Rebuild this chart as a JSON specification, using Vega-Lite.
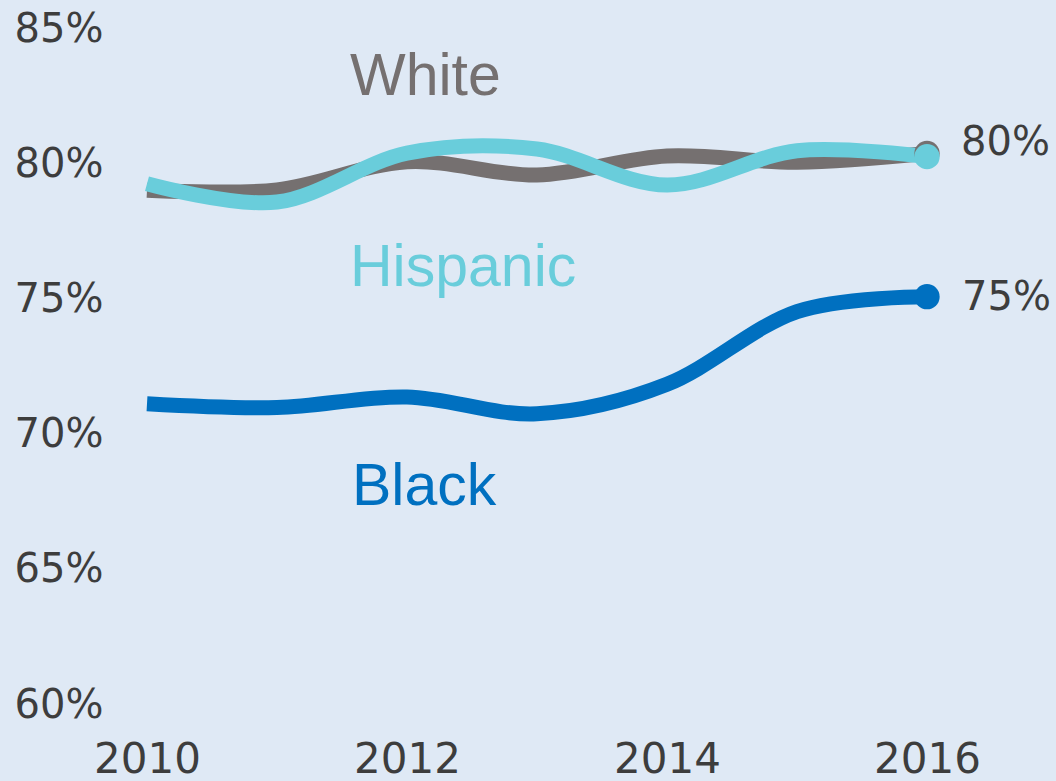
{
  "$schema": "https://vega.github.io/schema/vega-lite/v6.json",
  "autosize": "none",
  "width": 910,
  "height": 676,
  "padding": {"left": 147, "top": 29, "right": 0, "bottom": 76},
  "background": "#dfe9f5",
  "config": {"view": {"stroke": null}},
  "data": {
    "values": [
      {"series": "White", "year": 2010, "value": 0.7904},
      {"series": "White", "year": 2011, "value": 0.7905},
      {"series": "White", "year": 2012, "value": 0.8009},
      {"series": "White", "year": 2013, "value": 0.7960},
      {"series": "White", "year": 2014, "value": 0.8030},
      {"series": "White", "year": 2015, "value": 0.8007},
      {"series": "White", "year": 2016, "value": 0.8040},
      {"series": "Hispanic", "year": 2010, "value": 0.7928},
      {"series": "Hispanic", "year": 2011, "value": 0.7860},
      {"series": "Hispanic", "year": 2012, "value": 0.8041},
      {"series": "Hispanic", "year": 2013, "value": 0.8056},
      {"series": "Hispanic", "year": 2014, "value": 0.7923},
      {"series": "Hispanic", "year": 2015, "value": 0.8050},
      {"series": "Hispanic", "year": 2016, "value": 0.8028},
      {"series": "Black", "year": 2010, "value": 0.7114},
      {"series": "Black", "year": 2011, "value": 0.7100},
      {"series": "Black", "year": 2012, "value": 0.7139},
      {"series": "Black", "year": 2013, "value": 0.7077},
      {"series": "Black", "year": 2014, "value": 0.7186},
      {"series": "Black", "year": 2015, "value": 0.7455},
      {"series": "Black", "year": 2016, "value": 0.7510}
    ]
  },
  "encoding": {
    "x": {
      "field": "year", "type": "quantitative",
      "scale": {"domain": [2010, 2017], "nice": false, "zero": false},
      "axis": {
        "title": null, "values": [2010, 2012, 2014, 2016], "format": "d",
        "grid": false, "domain": false, "ticks": false, "tickSize": 0,
        "labelFont": "DejaVu Sans", "labelFontSize": 42, "labelColor": "#3d3d3d",
        "labelPadding": 34, "labelBaseline": "top", "labelFlush": false, "labelOverlap": false
      }
    },
    "y": {
      "field": "value", "type": "quantitative",
      "scale": {"domain": [0.6, 0.85], "nice": false, "zero": false},
      "axis": {
        "title": null, "values": [0.6, 0.65, 0.7, 0.75, 0.8, 0.85], "format": ".0%",
        "grid": false, "domain": false, "ticks": false, "tickSize": 0,
        "labelFont": "DejaVu Sans", "labelFontSize": 40, "labelColor": "#3d3d3d",
        "labelPadding": 44, "labelBaseline": "middle", "labelFlush": false, "labelOverlap": false
      }
    }
  },
  "layer": [
    {
      "mark": {"type": "line", "interpolate": "cardinal", "strokeWidth": 15, "strokeCap": "butt"},
      "encoding": {
        "color": {
          "field": "series", "type": "nominal",
          "scale": {"domain": ["White", "Hispanic", "Black"], "range": ["#757070", "#69cddb", "#0070c0"]},
          "legend": null
        },
        "detail": {"field": "series"}
      }
    },
    {
      "transform": [{"filter": "datum.year == 2016"}],
      "mark": {"type": "point", "filled": true, "size": 640, "opacity": 1},
      "encoding": {
        "color": {
          "field": "series", "type": "nominal",
          "scale": {"domain": ["White", "Hispanic", "Black"], "range": ["#757070", "#69cddb", "#0070c0"]},
          "legend": null
        }
      }
    },
    {
      "transform": [{"filter": "datum.year == 2016 && datum.series == 'White'"}],
      "mark": {"type": "text", "align": "left", "baseline": "middle", "dx": 34, "dy": -10, "font": "DejaVu Sans", "fontSize": 40, "color": "#3d3d3d"},
      "encoding": {"text": {"field": "value", "type": "quantitative", "format": ".0%"}}
    },
    {
      "transform": [{"filter": "datum.year == 2016 && datum.series == 'Black'"}],
      "mark": {"type": "text", "align": "left", "baseline": "middle", "dx": 35, "dy": 1, "font": "DejaVu Sans", "fontSize": 40, "color": "#3d3d3d"},
      "encoding": {"text": {"field": "value", "type": "quantitative", "format": ".0%"}}
    },
    {
      "transform": [{"filter": "datum.year == 2012 && datum.series == 'White'"}],
      "mark": {"type": "text", "align": "left", "baseline": "alphabetic", "dx": -57, "dy": -67, "font": "Liberation Sans", "fontSize": 59, "color": "#757070"},
      "encoding": {"text": {"field": "series"}}
    },
    {
      "transform": [{"filter": "datum.year == 2012 && datum.series == 'Hispanic'"}],
      "mark": {"type": "text", "align": "left", "baseline": "alphabetic", "dx": -57, "dy": 133, "font": "Liberation Sans", "fontSize": 59, "color": "#69cddb"},
      "encoding": {"text": {"field": "series"}}
    },
    {
      "transform": [{"filter": "datum.year == 2012 && datum.series == 'Black'"}],
      "mark": {"type": "text", "align": "left", "baseline": "alphabetic", "dx": -55, "dy": 108, "font": "Liberation Sans", "fontSize": 59, "color": "#0070c0"},
      "encoding": {"text": {"field": "series"}}
    }
  ]
}
